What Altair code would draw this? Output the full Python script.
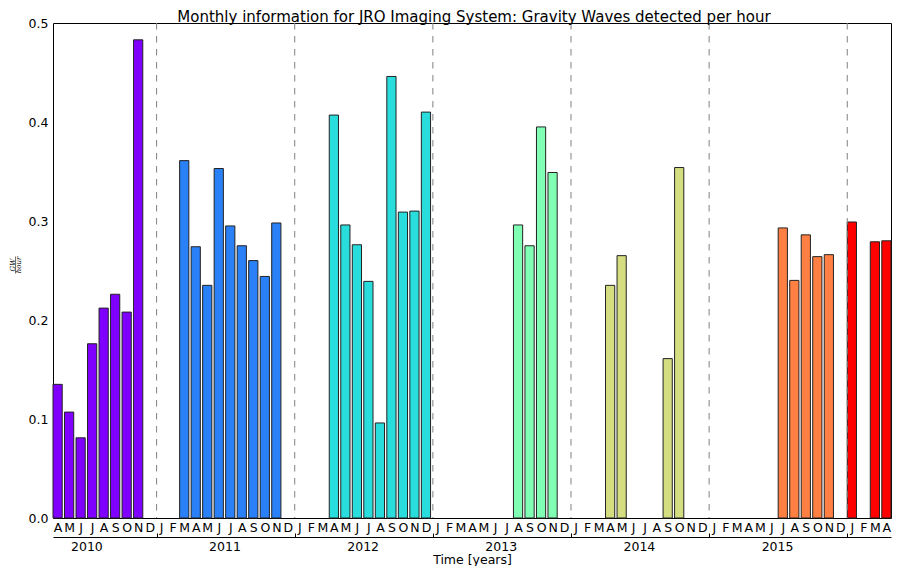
import altair as alt
import pandas as pd

years = [2010, 2011, 2012, 2013, 2014, 2015, 2016]
month_letters = ["J", "F", "M", "A", "M", "J", "J", "A", "S", "O", "N", "D"]

# Gravity waves per hour, Jan..Dec of each year (None = no data)
gw_2010 = [None, None, None, 0.135, 0.107, 0.081, 0.176, 0.212, 0.226, 0.208, 0.483, None]
gw_2011 = [None, None, 0.361, 0.274, 0.235, 0.353, 0.295, 0.275, 0.260, 0.244, 0.298, None]
gw_2012 = [None, None, None, 0.407, 0.296, 0.276, 0.239, 0.096, 0.446, 0.309, 0.310, 0.410]
gw_2013 = [None, None, None, None, None, None, None, 0.296, 0.275, 0.395, 0.349, None]
gw_2014 = [None, None, None, 0.235, 0.265, None, None, None, 0.161, 0.354, None, None]
gw_2015 = [None, None, None, None, None, None, 0.293, 0.240, 0.286, 0.264, 0.266, None]
gw_2016 = [0.299, None, 0.279, 0.280]

year_colors = ["#8000ff", "#2a80f6", "#2adddd", "#80ffb4", "#d4dd80", "#ff8042", "#ff0000"]
year_labels = ["2010", "2011", "2012", "2013", "2014", "2015"]
title_text = "Monthly information for JRO Imaging System: Gravity Waves detected per hour"

rows = []
for y, vals in zip(years, [gw_2010, gw_2011, gw_2012, gw_2013, gw_2014, gw_2015, gw_2016]):
    for m, v in enumerate(vals):
        if v is not None:
            rows.append({"year": str(y), "idx": (y - 2010) * 12 + m - 3, "gw": v})
df = pd.DataFrame(rows)

n_months = 73
W, H = 838, 495
boundaries = pd.DataFrame({"b": [(y - 2010) * 12 - 3 for y in years[1:]]})
mids = pd.DataFrame({"mid": [(int(y) - 2010) * 12 - 3 + 5.9 for y in year_labels]})

xscale = alt.Scale(domain=[0, n_months - 0.2], nice=False, zero=False)
FONT = "DejaVu Sans"

month_expr = "['J','F','M','A','M','J','J','A','S','O','N','D'][(floor(datum.value + 0.01) + 3) % 12]"

bars = alt.Chart(df).mark_bar(stroke="#222222", strokeWidth=1).encode(
    x=alt.X("idx:Q", scale=xscale,
            axis=alt.Axis(orient="bottom", values=[i + 0.4 for i in range(n_months)],
                          labelExpr=month_expr, ticks=False, domain=False, grid=False,
                          title=None, labelFontSize=12.5, labelFont=FONT, labelColor="black",
                          labelPadding=3, labelOverlap=False, labelFlush=False, labelBound=False)),
    x2="x_end:Q",
    y=alt.Y("gw:Q", scale=alt.Scale(domain=[0, 0.5], nice=False),
            axis=alt.Axis(values=[0, 0.1, 0.2, 0.3, 0.4, 0.5], format=".1f", ticks=False,
                          domain=False, grid=False, title=None, labelFontSize=12.5,
                          labelFont=FONT, labelColor="black", labelPadding=5)),
    y2="y0:Q",
    color=alt.Color("year:N", scale=alt.Scale(domain=[str(y) for y in years], range=year_colors),
                    legend=None),
).transform_calculate(x_end="datum.idx + 0.8", y0="0")

rules = alt.Chart(boundaries).mark_rule(color="#808080", strokeWidth=1, strokeDash=[6.5, 6.5]).encode(
    x=alt.X("b:Q", scale=xscale,
            axis=alt.Axis(orient="bottom", offset=15, values=boundaries["b"].tolist(),
                          labels=False, tickSize=4, tickColor="black", tickWidth=1,
                          domain=False, grid=False, title=None)),
)

yearaxis = alt.Chart(mids).mark_point(opacity=0).encode(
    x=alt.X("mid:Q", scale=xscale,
            axis=alt.Axis(orient="bottom", offset=19, values=mids["mid"].tolist(),
                          labelExpr="'' + (2010 + floor((datum.value + 3) / 12))",
                          ticks=False, domain=True, domainColor="black", domainWidth=1,
                          grid=False, title="Time [years]", titleFontSize=12.5,
                          titleFont=FONT, titleFontWeight="normal", titleColor="black",
                          titlePadding=1, labelFontSize=12.5, labelFont=FONT,
                          labelColor="black", labelPadding=3, labelOverlap=False,
                          labelFlush=False, labelBound=False)),
)

title = alt.Chart(pd.DataFrame({"t": [title_text]})).mark_text(
    font=FONT, fontSize=15, color="black", align="center", baseline="alphabetic").encode(
    x=alt.value(W / 2 + 2), y=alt.value(-1.5), text="t:N")

num = alt.Chart(pd.DataFrame({"t": ["GW"]})).mark_text(
    angle=270, font="DejaVu Serif", fontStyle="italic", fontSize=7, color="black",
    align="center", baseline="middle").encode(
    x=alt.value(-40.5), y=alt.value(242), text="t:N")
den = alt.Chart(pd.DataFrame({"t": ["hour"]})).mark_text(
    angle=270, font="DejaVu Serif", fontStyle="italic", fontSize=7, color="black",
    align="center", baseline="middle").encode(
    x=alt.value(-34.3), y=alt.value(242), text="t:N")
fracline = alt.Chart(pd.DataFrame({"t": [1]})).mark_rule(color="black", strokeWidth=0.6).encode(
    x=alt.value(-37.4), y=alt.value(233.5), y2=alt.value(250.5))

chart = alt.layer(bars, rules, yearaxis, title, num, den, fracline).resolve_axis(
    x="independent"
).properties(
    width=W, height=H,
    padding={"left": 45, "top": 15, "right": 1, "bottom": 48},
    autosize=alt.AutoSizeParams(type="none"),
).configure_view(stroke="black", strokeWidth=1)

chart.save("out.html", embed_options={"renderer": "svg", "actions": False})
